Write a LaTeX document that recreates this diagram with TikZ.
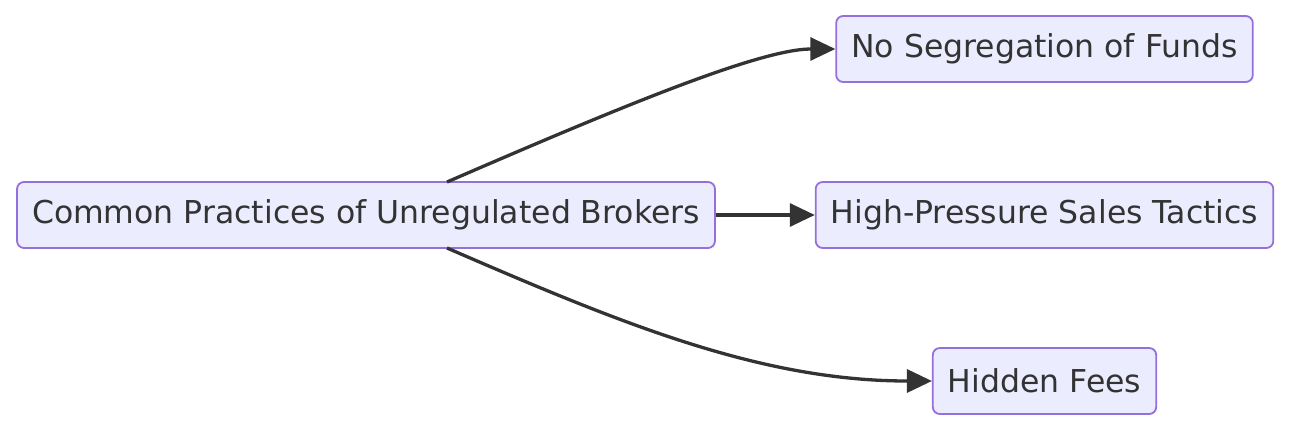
\documentclass[tikz,border=0pt]{standalone}
\usepackage{fontspec}
\setmainfont{DejaVu Sans}
\usetikzlibrary{arrows.meta}
\definecolor{boxfill}{HTML}{ECECFF}
\definecolor{boxline}{HTML}{9370DB}
\definecolor{ink}{HTML}{333333}
\begin{document}
\begin{tikzpicture}[x=1pt,y=-1pt,
	practice/.style={draw=boxline,fill=boxfill,line width=1.8pt,rounded corners=7pt,text=ink,
		font=\fontsize{31.5}{37}\selectfont,inner xsep=15pt,minimum height=66pt},
	link/.style={draw=ink,line width=3.3pt,-{Triangle[length=25pt,width=23pt]}}]

	\useasboundingbox (0,0) rectangle (1306,436);

	\node[practice] (common) at (366,215) {Common Practices of Unregulated Brokers};
	\node[practice] (nofunds) at (1044.5,49) {No Segregation of Funds};
	\node[practice] (pressure) at (1044.5,215) {High-Pressure Sales Tactics};
	\node[practice] (fees) at (1044.5,381) {Hidden Fees};

	\draw[link] (common.east) -- (pressure.west);
	\draw[link] (447,182) .. controls (620,107) and (760,49) .. (nofunds.west);
	\draw[link] (447,248) .. controls (620,323) and (760,381) .. (fees.west);

\end{tikzpicture}
\end{document}
